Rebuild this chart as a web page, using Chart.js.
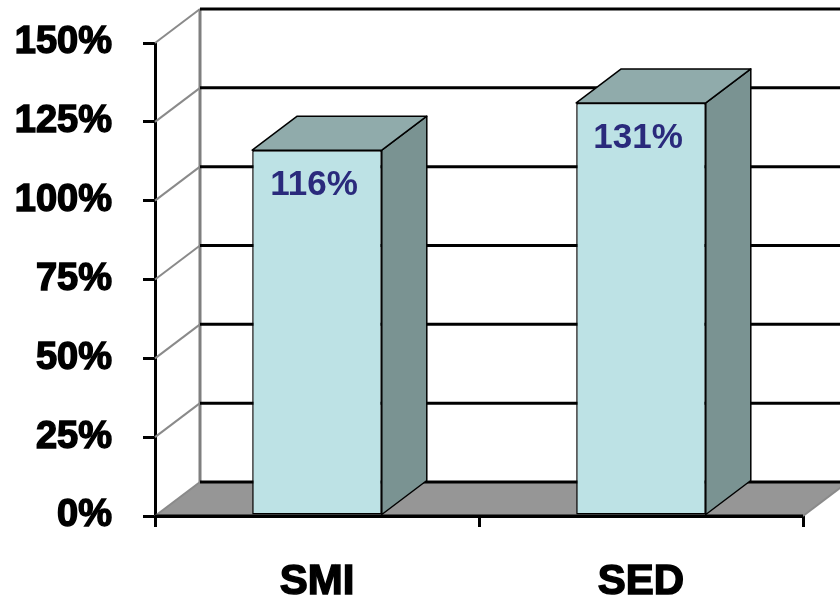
<!DOCTYPE html>
<html>
<head>
<meta charset="utf-8">
<script src="https://cdn.jsdelivr.net/npm/chart.js@4/dist/chart.umd.min.js"></script>
<style>
  html, body { margin: 0; padding: 0; background: #fff; overflow: hidden; }
  #wrap { width: 840px; height: 597px; }
</style>
</head>
<body>
<div id="wrap"><canvas id="chart" width="840" height="597"></canvas></div>
<script>
// Chart data
var categories = ['SMI', 'SED'];
var values = [116, 131];
var yMin = 0;
var yMax = 150;
var yStep = 25;

// 3D look
var depthX = 45;
var depthY = -34;
var frontColor = '#BDE2E5';
var sideColor = '#7A9392';
var topColor = '#90ABAB';
var floorColor = '#969696';
var labelColor = '#2A2A7C';

var threeD = {
    id: 'threeD',
    beforeDatasetsDraw: function(chart) {
        var ctx = chart.ctx;
        var a = chart.chartArea;
        var y = chart.scales.y;
        ctx.save();

        // floor
        ctx.fillStyle = floorColor;
        ctx.beginPath();
        ctx.moveTo(a.left, a.bottom);
        ctx.lineTo(a.right, a.bottom);
        ctx.lineTo(a.right + depthX, a.bottom + depthY);
        ctx.lineTo(a.left + depthX, a.bottom + depthY);
        ctx.closePath();
        ctx.fill();

        // left wall back edge
        ctx.strokeStyle = '#7f7f7f';
        ctx.lineWidth = 3;
        ctx.beginPath();
        ctx.moveTo(a.left + depthX, y.getPixelForValue(yMax) + depthY);
        ctx.lineTo(a.left + depthX, a.bottom + depthY);
        ctx.stroke();

        y.ticks.forEach(function(t) {
            var py = y.getPixelForValue(t.value);
            // diagonal on the left wall
            ctx.strokeStyle = '#8a8a8a';
            ctx.lineWidth = 2;
            ctx.beginPath();
            ctx.moveTo(a.left, py);
            ctx.lineTo(a.left + depthX, py + depthY);
            ctx.stroke();
            // back wall gridline
            ctx.strokeStyle = '#000';
            ctx.lineWidth = 3;
            ctx.beginPath();
            ctx.moveTo(a.left + depthX, py + depthY);
            ctx.lineTo(a.right + depthX, py + depthY);
            ctx.stroke();
        });

        // right edge of floor
        ctx.strokeStyle = '#8a8a8a';
        ctx.lineWidth = 2;
        ctx.beginPath();
        ctx.moveTo(a.right, a.bottom);
        ctx.lineTo(a.right + depthX, a.bottom + depthY);
        ctx.stroke();

        ctx.restore();
    },
    afterDatasetsDraw: function(chart) {
        var ctx = chart.ctx;
        var a = chart.chartArea;
        var meta = chart.getDatasetMeta(0);
        ctx.save();
        ctx.strokeStyle = '#000';
        ctx.lineWidth = 1.5;
        ctx.lineJoin = 'round';
        meta.data.forEach(function(bar, i) {
            var left = bar.x - bar.width / 2;
            var right = bar.x + bar.width / 2;
            var top = bar.y;
            var base = bar.base;

            // side face
            ctx.fillStyle = sideColor;
            ctx.beginPath();
            ctx.moveTo(right, top);
            ctx.lineTo(right + depthX, top + depthY);
            ctx.lineTo(right + depthX, base + depthY);
            ctx.lineTo(right, base);
            ctx.closePath();
            ctx.fill();
            ctx.stroke();

            // top face
            ctx.fillStyle = topColor;
            ctx.beginPath();
            ctx.moveTo(left, top);
            ctx.lineTo(left + depthX, top + depthY);
            ctx.lineTo(right + depthX, top + depthY);
            ctx.lineTo(right, top);
            ctx.closePath();
            ctx.fill();
            ctx.stroke();

            // value label
            ctx.fillStyle = labelColor;
            ctx.font = 'bold 35px "Liberation Sans", Arial, sans-serif';
            ctx.textAlign = 'center';
            ctx.textBaseline = 'middle';
            ctx.fillText(values[i] + '%', bar.x - 3, top + 35);
        });

        // front x axis line
        ctx.strokeStyle = '#000';
        ctx.lineWidth = 3;
        ctx.beginPath();
        ctx.moveTo(a.left, a.bottom);
        ctx.lineTo(a.right, a.bottom);
        ctx.stroke();
        ctx.restore();
    }
};

new Chart(document.getElementById('chart').getContext('2d'), {
    type: 'bar',
    data: {
        labels: categories,
        datasets: [{
            data: values,
            backgroundColor: frontColor,
            borderColor: '#000',
            borderWidth: 1.5,
            borderSkipped: false,
            categoryPercentage: 1,
            barPercentage: 0.40
        }]
    },
    options: {
        responsive: false,
        animation: false,
        devicePixelRatio: 1,
        layout: { padding: { top: 43, right: 37, left: 0, bottom: 0 } },
        plugins: {
            legend: { display: false },
            tooltip: { enabled: false }
        },
        scales: {
            x: {
                afterFit: function(scale) {
                    scale.height = 81;
                    scale.paddingLeft = 0;
                    scale.paddingRight = 0;
                },
                grid: {
                    offset: true,
                    drawOnChartArea: false,
                    tickLength: 11,
                    lineWidth: 3,
                    color: '#000'
                },
                border: { display: true, color: '#000', width: 3 },
                ticks: {
                    color: '#000',
                    padding: 30,
                    textStrokeColor: '#000',
                    textStrokeWidth: 1.5,
                    font: { family: '"Liberation Sans", Arial, sans-serif', size: 42, weight: 'bold' }
                }
            },
            y: {
                min: yMin,
                max: yMax,
                afterFit: function(scale) {
                    scale.width = 155;
                    scale.paddingTop = 0;
                    scale.paddingBottom = 0;
                },
                grid: {
                    drawOnChartArea: false,
                    tickLength: 12,
                    lineWidth: 3,
                    color: '#000'
                },
                border: { display: true, color: '#000', width: 3 },
                ticks: {
                    stepSize: yStep,
                    color: '#000',
                    padding: 31,
                    textStrokeColor: '#000',
                    textStrokeWidth: 1.5,
                    font: { family: '"Liberation Sans", Arial, sans-serif', size: 38, weight: 'bold' },
                    callback: function(v) { return v + '%'; }
                }
            }
        }
    },
    plugins: [threeD]
});
</script>
</body>
</html>
